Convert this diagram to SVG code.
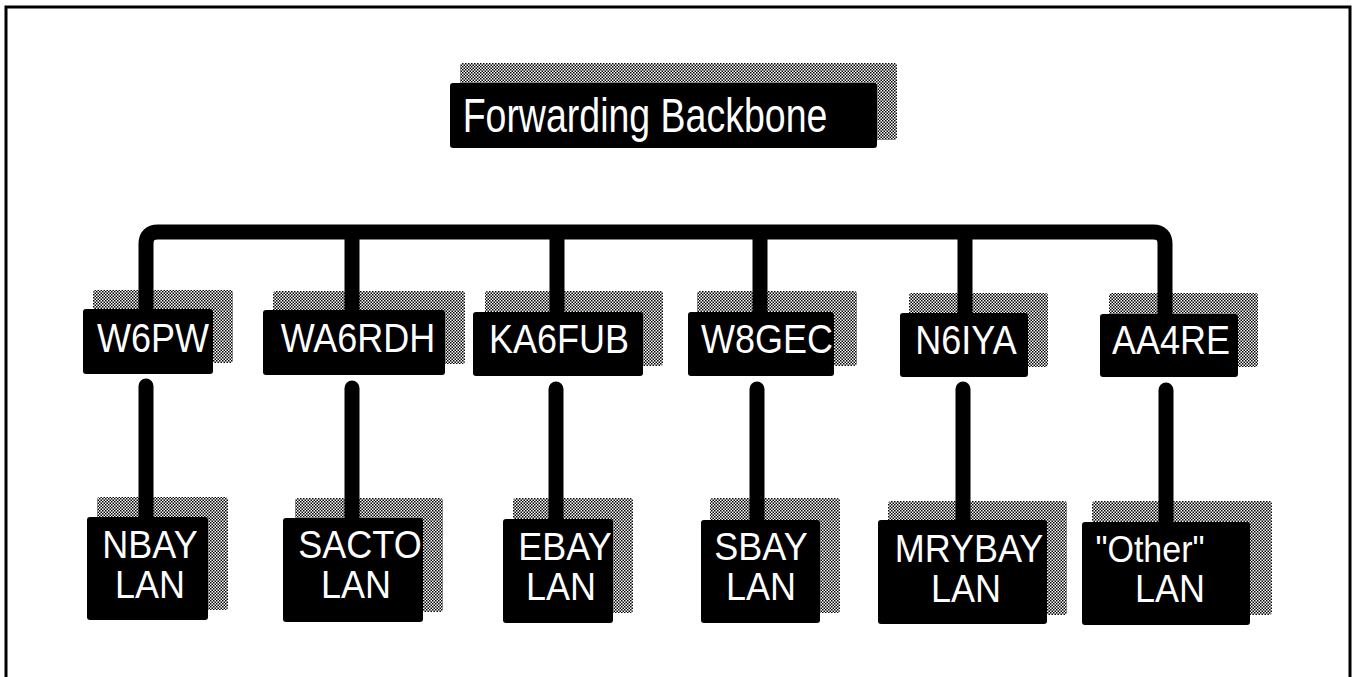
<svg xmlns="http://www.w3.org/2000/svg" width="1356" height="677" viewBox="0 0 1356 677">
<defs>
<pattern id="dither" width="3" height="3" patternUnits="userSpaceOnUse">
<rect width="3" height="3" fill="#ffffff"/>
<rect x="0" y="0" width="1.5" height="1.5" fill="#000000"/>
<rect x="1.5" y="1.5" width="1.5" height="1.5" fill="#000000"/>
</pattern>
</defs>
<style>
.shadow{fill:url(#dither);}
.box{fill:#000000;}
.t{fill:#ffffff;font-family:"Liberation Sans",Arial,Helvetica,sans-serif;font-size:36px;text-anchor:middle;}
.wire{fill:none;stroke:#000000;stroke-width:15;}
.drop{fill:none;stroke:#000000;stroke-width:15;stroke-linecap:round;}
.frame{fill:none;stroke:#000000;stroke-width:3;}
</style>
<rect class="frame" x="6" y="7" width="1344" height="700"/>

<g id="title">
<rect class="shadow" x="460" y="63" width="437" height="77" rx="3"/>
<rect class="box" x="450" y="83" width="427" height="65" rx="3"/>
<text class="t" style="font-size:37.5px" transform="translate(645,132) scale(1,1.3)">Forwarding Backbone</text>
</g>

<g id="w6pw">
<rect class="shadow" x="93" y="290" width="140" height="73" rx="3"/>
<rect class="box" x="83" y="309" width="130" height="65" rx="3"/>
<text class="t" transform="translate(153,352) scale(1,1.15)">W6PW</text>
</g>
<g id="wa6rdh">
<rect class="shadow" x="273" y="291" width="192" height="73" rx="3"/>
<rect class="box" x="263" y="310" width="182" height="65" rx="3"/>
<text class="t" transform="translate(358,352) scale(1,1.15)">WA6RDH</text>
</g>
<g id="ka6fub">
<rect class="shadow" x="485" y="291" width="178" height="75" rx="3"/>
<rect class="box" x="473" y="312" width="170" height="64" rx="3"/>
<text class="t" transform="translate(559,353) scale(1,1.15)">KA6FUB</text>
</g>
<g id="w8gec">
<rect class="shadow" x="697" y="291" width="160" height="75" rx="3"/>
<rect class="box" x="688" y="312" width="146" height="64" rx="3"/>
<text class="t" transform="translate(767,353) scale(1,1.15)">W8GEC</text>
</g>
<g id="n6iya">
<rect class="shadow" x="909" y="293" width="139" height="74" rx="3"/>
<rect class="box" x="900" y="313" width="128" height="64" rx="3"/>
<text class="t" transform="translate(966,354) scale(1,1.15)">N6IYA</text>
</g>
<g id="aa4re">
<rect class="shadow" x="1109" y="293" width="149" height="74" rx="3"/>
<rect class="box" x="1100" y="314" width="138" height="63" rx="3"/>
<text class="t" transform="translate(1171,354) scale(1,1.15)">AA4RE</text>
</g>

<g id="nbay">
<rect class="shadow" x="97" y="497" width="131" height="113" rx="3"/>
<rect class="box" x="87" y="517" width="121" height="103" rx="3"/>
<text class="t" transform="translate(150,558) scale(1,1.08)">NBAY</text>
<text class="t" transform="translate(150,598) scale(1,1.08)">LAN</text>
</g>
<g id="sacto">
<rect class="shadow" x="295" y="498" width="148" height="114" rx="3"/>
<rect class="box" x="283" y="518" width="140" height="104" rx="3"/>
<text class="t" transform="translate(360,558) scale(1,1.08)">SACTO</text>
<text class="t" transform="translate(356,598) scale(1,1.08)">LAN</text>
</g>
<g id="ebay">
<rect class="shadow" x="513" y="498" width="120" height="115" rx="3"/>
<rect class="box" x="503" y="519" width="110" height="104" rx="3"/>
<text class="t" transform="translate(565,560) scale(1,1.08)">EBAY</text>
<text class="t" transform="translate(561,600) scale(1,1.08)">LAN</text>
</g>
<g id="sbay">
<rect class="shadow" x="710" y="498" width="130" height="115" rx="3"/>
<rect class="box" x="701" y="520" width="119" height="103" rx="3"/>
<text class="t" transform="translate(761,560) scale(1,1.08)">SBAY</text>
<text class="t" transform="translate(761,600) scale(1,1.08)">LAN</text>
</g>
<g id="mrybay">
<rect class="shadow" x="888" y="501" width="179" height="114" rx="3"/>
<rect class="box" x="878" y="520" width="169" height="104" rx="3"/>
<text class="t" transform="translate(969,562) scale(1,1.08)">MRYBAY</text>
<text class="t" transform="translate(966,602) scale(1,1.08)">LAN</text>
</g>
<g id="other">
<rect class="shadow" x="1092" y="501" width="180" height="114" rx="3"/>
<rect class="box" x="1082" y="522" width="168" height="103" rx="3"/>
<text class="t" style="font-size:34px" transform="translate(1150,562) scale(1,1.08)">"Other"</text>
<text class="t" transform="translate(1170,602) scale(1,1.08)">LAN</text>
</g>

<g id="connectors">
<path class="wire" d="M146,310 V244 Q146,232 158,232 H1153 Q1165,232 1165,244 V315"/>
<line class="wire" x1="352" y1="232" x2="352" y2="311"/>
<line class="wire" x1="557" y1="232" x2="557" y2="313"/>
<line class="wire" x1="760" y1="232" x2="760" y2="313"/>
<line class="wire" x1="965" y1="232" x2="965" y2="314"/>
<line class="drop" x1="146" y1="386" x2="146" y2="518"/>
<line class="drop" x1="352" y1="388" x2="352" y2="519"/>
<line class="drop" x1="556" y1="389" x2="556" y2="520"/>
<line class="drop" x1="757" y1="389" x2="757" y2="521"/>
<line class="drop" x1="963" y1="389" x2="963" y2="521"/>
<line class="drop" x1="1166" y1="390" x2="1166" y2="523"/>
</g>
</svg>
